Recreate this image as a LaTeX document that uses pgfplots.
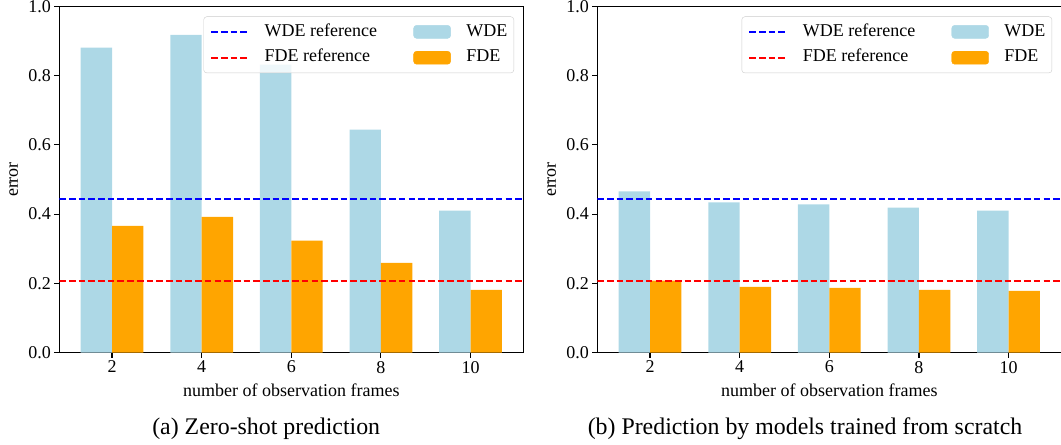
\documentclass[border=0pt]{standalone}
\usepackage{fontspec}
\setmainfont{Liberation Serif}
\usepackage{pgfplots}
\pgfplotsset{compat=1.18}
\definecolor{lblue}{HTML}{ADD8E6}
\definecolor{orng}{HTML}{FFA500}
\newcommand\fs{\fontsize{18}{21.6}\selectfont}
\pgfplotsset{
  myaxis/.style={
    scale only axis, width=464pt, height=346pt,
    xmin=-0.588, xmax=4.588, ymin=0, ymax=1,
    xtick={0,1,2,3,4}, xticklabels={2,4,6,8,10},
    ytick={0,0.2,0.4,0.6,0.8,1.0},
    yticklabel style={/pgf/number format/.cd, fixed, fixed zerofill, precision=1, assume math mode=true},
    xticklabel style={/pgf/number format/assume math mode=true},
    tick label style={font=\fs},
    label style={font=\fs},
    tick align=outside, major tick length=5pt, tick pos=left,
    axis line style={black, line width=1.1pt},
    tick style={black, line width=1.1pt},
    xlabel={number of observation frames},
    ylabel={error},
    xlabel style={at={(axis description cs:0.5,-0.1265)}, anchor=base},
    ylabel style={at={(axis description cs:-0.0981,0.5)}, anchor=center},
    legend columns=2, legend cell align=left,
    legend style={anchor=north east, draw=black!20, rounded corners=3pt,
      fill=white, fill opacity=0.8, text opacity=1, draw opacity=1,
      inner xsep=6.5pt, inner ysep=7.4pt, font=\fs, row sep=10.4pt,
      nodes={inner sep=0pt, text height=12pt, text depth=3.5pt},
      /tikz/every odd column/.append style={column sep=15.5pt},
      /tikz/every even column/.append style={column sep=36.3pt}},
  },
  refline/.style={line width=2pt, dash pattern=on 6.6pt off 3.1pt},
  lineimg/.style={legend image code/.code={\draw[##1, line width=2pt, dash pattern=on 6.6pt off 3.1pt] (0pt,0pt) -- (37pt,0pt);}},
  barimg/.style={legend image code/.code={\fill[##1, fill opacity=1] (0pt,-6.5pt) rectangle (37pt,6.5pt);}},
}
\begin{document}
\begin{tikzpicture}
\path[use as bounding box] (0pt,-92.3pt) rectangle (1061pt,352.5pt);
\begin{axis}[myaxis, at={(59.3pt,0pt)}, anchor=south west,
  legend style={at={(1,1)}, xshift=-9.3pt, yshift=-10pt}]
\addlegendimage{lineimg, blue}\addlegendentry{WDE reference}
\addlegendimage{barimg, lblue}\addlegendentry{WDE}
\addlegendimage{lineimg, red}\addlegendentry{FDE reference}
\addlegendimage{barimg, orng}\addlegendentry{FDE}
\addplot[ybar, bar width=0.35, bar shift=-0.175, fill=lblue, draw=none, forget plot]
  coordinates {(0,0.881) (1,0.918) (2,0.832) (3,0.644) (4,0.410)};
\addplot[ybar, bar width=0.35, bar shift=0.175, fill=orng, draw=none, forget plot]
  coordinates {(0,0.366) (1,0.392) (2,0.323) (3,0.259) (4,0.181)};
\addplot[refline, blue, forget plot] coordinates {(-0.588,0.445) (4.588,0.445)};
\addplot[refline, red, forget plot] coordinates {(-0.588,0.207) (4.588,0.207)};
\end{axis}
\begin{axis}[myaxis, at={(597.3pt,0pt)}, anchor=south west,
  legend style={at={(1,1)}, xshift=-9.2pt, yshift=-10pt}]
\addlegendimage{lineimg, blue}\addlegendentry{WDE reference}
\addlegendimage{barimg, lblue}\addlegendentry{WDE}
\addlegendimage{lineimg, red}\addlegendentry{FDE reference}
\addlegendimage{barimg, orng}\addlegendentry{FDE}
\addplot[ybar, bar width=0.35, bar shift=-0.175, fill=lblue, draw=none, forget plot]
  coordinates {(0,0.466) (1,0.434) (2,0.428) (3,0.419) (4,0.410)};
\addplot[ybar, bar width=0.35, bar shift=0.175, fill=orng, draw=none, forget plot]
  coordinates {(0,0.208) (1,0.190) (2,0.187) (3,0.181) (4,0.178)};
\addplot[refline, blue, forget plot] coordinates {(-0.588,0.445) (4.588,0.445)};
\addplot[refline, red, forget plot] coordinates {(-0.588,0.207) (4.588,0.207)};
\end{axis}
\node[anchor=base, font=\fontsize{23.85}{28}\selectfont] at (266.2pt,-82.3pt) {(a) Zero-shot prediction};
\node[anchor=base, font=\fontsize{23.85}{28}\selectfont] at (805pt,-82.3pt) {(b) Prediction by models trained from scratch};
\end{tikzpicture}
\end{document}
